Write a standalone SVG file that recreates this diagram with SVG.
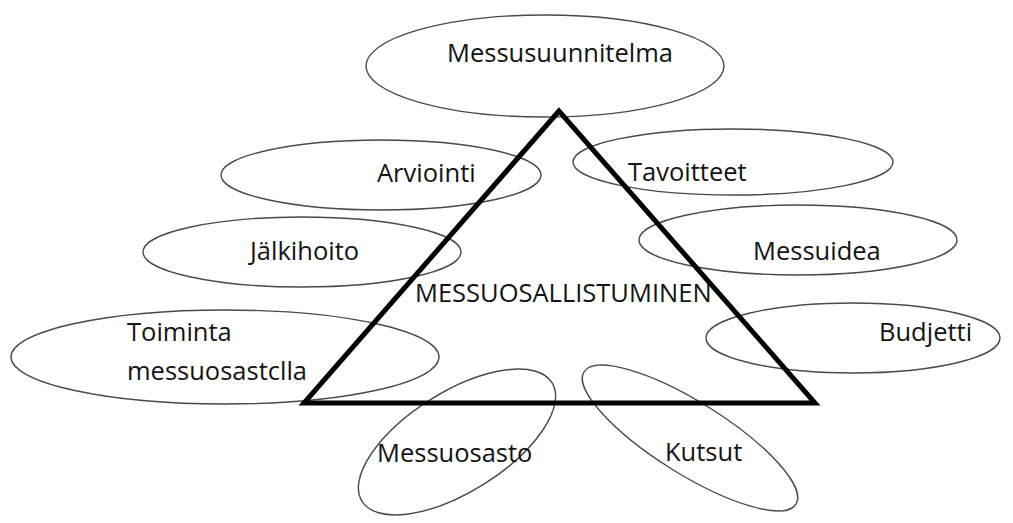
<svg xmlns="http://www.w3.org/2000/svg" width="1013" height="523" viewBox="0 0 1013 523">
  <style>
    .bubble { fill: none; stroke: #4a4a4a; stroke-width: 1.4; }
    .label { font-family: "Open Sans", "Noto Sans", sans-serif; font-size: 25.5px; fill: #141414; }
    .frame { fill: none; stroke: #000; stroke-width: 5; stroke-linejoin: miter; }
  </style>
  <rect width="1013" height="523" fill="#fff"/>

  <g id="messusuunnitelma">
    <ellipse class="bubble" cx="545" cy="66" rx="179" ry="51"/>
    <text class="label" x="447" y="62">Messusuunnitelma</text>
  </g>
  <g id="arviointi">
    <ellipse class="bubble" cx="381" cy="175" rx="160" ry="35"/>
    <text class="label" x="377" y="182">Arviointi</text>
  </g>
  <g id="tavoitteet">
    <ellipse class="bubble" cx="733" cy="162" rx="160" ry="33"/>
    <text class="label" x="628" y="181">Tavoitteet</text>
  </g>
  <g id="jalkihoito">
    <ellipse class="bubble" cx="302" cy="252" rx="159" ry="35"/>
    <text class="label" x="250" y="260">Jälkihoito</text>
  </g>
  <g id="messuidea">
    <ellipse class="bubble" cx="798" cy="240" rx="159" ry="35"/>
    <text class="label" x="753" y="260">Messuidea</text>
  </g>
  <g id="budjetti">
    <ellipse class="bubble" cx="853" cy="338" rx="147" ry="35"/>
    <text class="label" x="879" y="341">Budjetti</text>
  </g>
  <g id="toiminta">
    <ellipse class="bubble" cx="225" cy="357" rx="214" ry="47"/>
    <text class="label" x="127" y="341">Toiminta</text>
    <text class="label" x="127" y="380">messuosastclla</text>
  </g>
  <g id="messuosasto">
    <ellipse class="bubble" cx="457" cy="442" rx="112" ry="50" transform="rotate(-32 457 442)"/>
    <text class="label" x="377" y="462">Messuosasto</text>
  </g>
  <g id="kutsut">
    <ellipse class="bubble" cx="690" cy="438" rx="125" ry="36" transform="rotate(32 690 438)"/>
    <text class="label" x="665" y="461">Kutsut</text>
  </g>

  <g id="connectors">
    <polygon class="frame" points="559,111 304,403 815,403"/>
  </g>
  <g id="messuosallistuminen">
    <text class="label" x="415" y="302">MESSUOSALLISTUMINEN</text>
  </g>
</svg>
